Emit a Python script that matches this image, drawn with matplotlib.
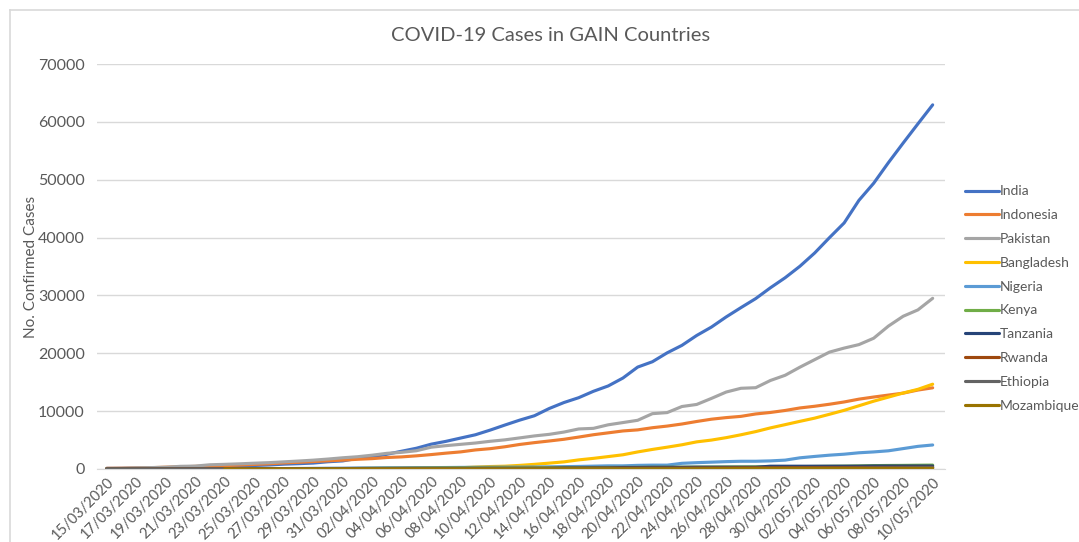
import pandas as pd
import numpy as np
import matplotlib
matplotlib.use("Agg")
import matplotlib.pyplot as plt
from matplotlib.lines import Line2D

plt.rcParams["font.family"] = ["Lato", "DejaVu Sans"]

dates = pd.date_range("2020-03-15", "2020-05-10", freq="D")
date_labels = [d.strftime("%d/%m/%Y") for d in dates]

india = [107, 114, 137, 151, 173, 223, 315, 360, 468, 519, 606, 694, 834, 918, 1024,
         1251, 1397, 1834, 2069, 2547, 3072, 3588, 4289, 4778, 5351, 5916, 6725, 7600,
         8446, 9205, 10453, 11487, 12322, 13430, 14352, 15722, 17615, 18539, 20080,
         21370, 23077, 24530, 26283, 27890, 29451, 31324, 33062, 35043, 37336, 39980,
         42533, 46433, 49391, 52952, 56342, 59662, 62939]
indonesia = [117, 134, 172, 227, 309, 369, 450, 514, 579, 686, 790, 893, 1046, 1155,
             1285, 1414, 1528, 1677, 1790, 1986, 2092, 2273, 2491, 2738, 2956, 3293,
             3512, 3842, 4241, 4557, 4839, 5136, 5516, 5923, 6248, 6575, 6760, 7135,
             7418, 7775, 8211, 8607, 8882, 9096, 9511, 9771, 10118, 10551, 10843, 11192,
             11587, 12071, 12438, 12776, 13112, 13645, 14032]
pakistan = [53, 94, 187, 241, 302, 461, 501, 730, 803, 892, 1000, 1094, 1235, 1373,
            1526, 1717, 1938, 2118, 2386, 2708, 2880, 3157, 3766, 4035, 4263, 4489,
            4788, 5038, 5374, 5716, 5988, 6383, 6919, 7025, 7638, 8025, 8418, 9565,
            9749, 10800, 11155, 12200, 13300, 13950, 14050, 15300, 16200, 17600, 18900,
            20200, 20900, 21500, 22600, 24700, 26400, 27500, 29500]
bangladesh = [5, 8, 10, 14, 17, 20, 24, 27, 33, 39, 39, 44, 48, 48, 48, 49, 51, 54, 56,
              61, 70, 88, 123, 164, 218, 330, 424, 482, 621, 803, 1012, 1231, 1572, 1838,
              2144, 2456, 2948, 3382, 3772, 4186, 4689, 4998, 5416, 5913, 6462, 7103,
              7667, 8238, 8790, 9455, 10143, 10929, 11719, 12425, 13134, 13770, 14657]
nigeria = [2, 2, 3, 8, 8, 12, 22, 30, 40, 44, 51, 65, 70, 89, 111, 131, 139, 174, 184,
           210, 214, 232, 238, 254, 276, 288, 305, 318, 323, 343, 373, 407, 442, 493,
           542, 542, 627, 665, 665, 981, 1095, 1182, 1273, 1337, 1337, 1400, 1532, 1932,
           2170, 2388, 2558, 2802, 2950, 3145, 3526, 3912, 4151]
kenya = [3, 3, 3, 7, 7, 7, 7, 15, 16, 25, 28, 31, 31, 38, 42, 50, 59, 81, 110, 122, 126,
         142, 158, 172, 179, 184, 189, 191, 197, 208, 216, 225, 234, 246, 262, 270, 281,
         296, 303, 320, 336, 343, 355, 363, 374, 384, 396, 411, 435, 465, 490, 535, 582,
         607, 621, 649, 672]
tanzania = [1, 1, 3, 3, 6, 6, 12, 12, 12, 12, 12, 13, 13, 14, 14, 19, 19, 20, 20, 20,
            22, 24, 24, 24, 25, 32, 32, 49, 49, 49, 88, 147, 147, 170, 170, 254, 254,
            284, 284, 284, 299, 299, 299, 299, 299, 480, 480, 480, 480, 480, 480, 480,
            509, 509, 509, 509, 509]
rwanda = [1, 5, 7, 8, 11, 17, 19, 36, 40, 41, 50, 54, 60, 70, 70, 75, 82, 84, 89, 89,
          102, 104, 105, 105, 110, 113, 118, 118, 120, 126, 127, 134, 136, 138, 143, 144,
          147, 150, 153, 154, 176, 183, 191, 207, 212, 225, 243, 249, 255, 259, 261, 268,
          271, 273, 280, 284, 284]
ethiopia = [5, 5, 6, 6, 6, 9, 11, 11, 12, 12, 12, 12, 16, 16, 21, 23, 26, 29, 29, 35,
            38, 43, 44, 52, 55, 56, 65, 69, 71, 74, 74, 85, 92, 96, 105, 108, 111, 114,
            116, 116, 117, 122, 123, 124, 126, 130, 131, 133, 135, 140, 145, 162, 191,
            194, 210, 239, 250]
mozambique = [np.nan] * 8 + [1, 1, 5, 5, 7, 8, 8, 8, 8, 10, 10, 10, 10, 10, 10, 10, 17,
                             17, 20, 20, 21, 21, 21, 28, 29, 31, 34, 35, 39, 39, 41, 46,
                             46, 65, 70, 76, 76, 76, 79, 79, 80, 81, 81, 82, 87, 91, 91,
                             103, 104]

countries = ["India", "Indonesia", "Pakistan", "Bangladesh", "Nigeria", "Kenya",
             "Tanzania", "Rwanda", "Ethiopia", "Mozambique"]
series = [india, indonesia, pakistan, bangladesh, nigeria, kenya, tanzania, rwanda,
          ethiopia, mozambique]
colors = ["#4472C4", "#ED7D31", "#A5A5A5", "#FFC000", "#5B9BD5", "#70AD47",
          "#264478", "#9E480E", "#636363", "#997300"]

text_color = "#595959"

fig = plt.figure(figsize=(10.79, 5.42), dpi=100)
ax = fig.add_axes([0.09, 0.1347, 0.786, 0.7472])

x = np.arange(len(dates))
for name, values, color in zip(countries, series, colors):
    ax.plot(x, values, color=color, linewidth=2.25, label=name,
            solid_capstyle="round")

ax.set_xlim(-0.65, 56.85)
ax.set_ylim(0, 70000)
ax.set_yticks(range(0, 70001, 10000))
ax.set_yticklabels([str(v) for v in range(0, 70001, 10000)])
ax.set_xticks(x[::2])
ax.set_xticklabels(date_labels[::2], rotation=45, ha="right",
                   rotation_mode="anchor")

ax.grid(True, axis="y", color="#D9D9D9", linewidth=1)
ax.set_axisbelow(True)
for side in ["top", "right", "left"]:
    ax.spines[side].set_visible(False)
ax.spines["bottom"].set_color("#D9D9D9")
ax.tick_params(axis="both", length=0, colors=text_color)
ax.tick_params(axis="y", pad=9, labelsize=11.5)
ax.tick_params(axis="x", pad=4, labelsize=10.5)

ax.set_ylabel("No. Confirmed Cases", color=text_color, fontsize=11)
ax.yaxis.set_label_coords(-0.07, 0.5)

fig.text(0.51, 0.935, "COVID-19 Cases in GAIN Countries", ha="center",
         va="center", color=text_color, fontsize=14.5)

leg = ax.legend(loc="center left", bbox_to_anchor=(1.0236, 0.421), frameon=False,
                fontsize=10, handlelength=2.4, handletextpad=0.1,
                labelspacing=0.85, borderaxespad=0, borderpad=0)
for t in leg.get_texts():
    t.set_color(text_color)

# chart border
fig.add_artist(Line2D([10 / 1079, 1], [1 - 10 / 542, 1 - 10 / 542],
                      color="#D9D9D9", linewidth=1.2))
fig.add_artist(Line2D([10 / 1079, 10 / 1079], [0, 1 - 10 / 542],
                      color="#D9D9D9", linewidth=1.2))

plt.savefig("out.png", dpi=100)
plt.close()
